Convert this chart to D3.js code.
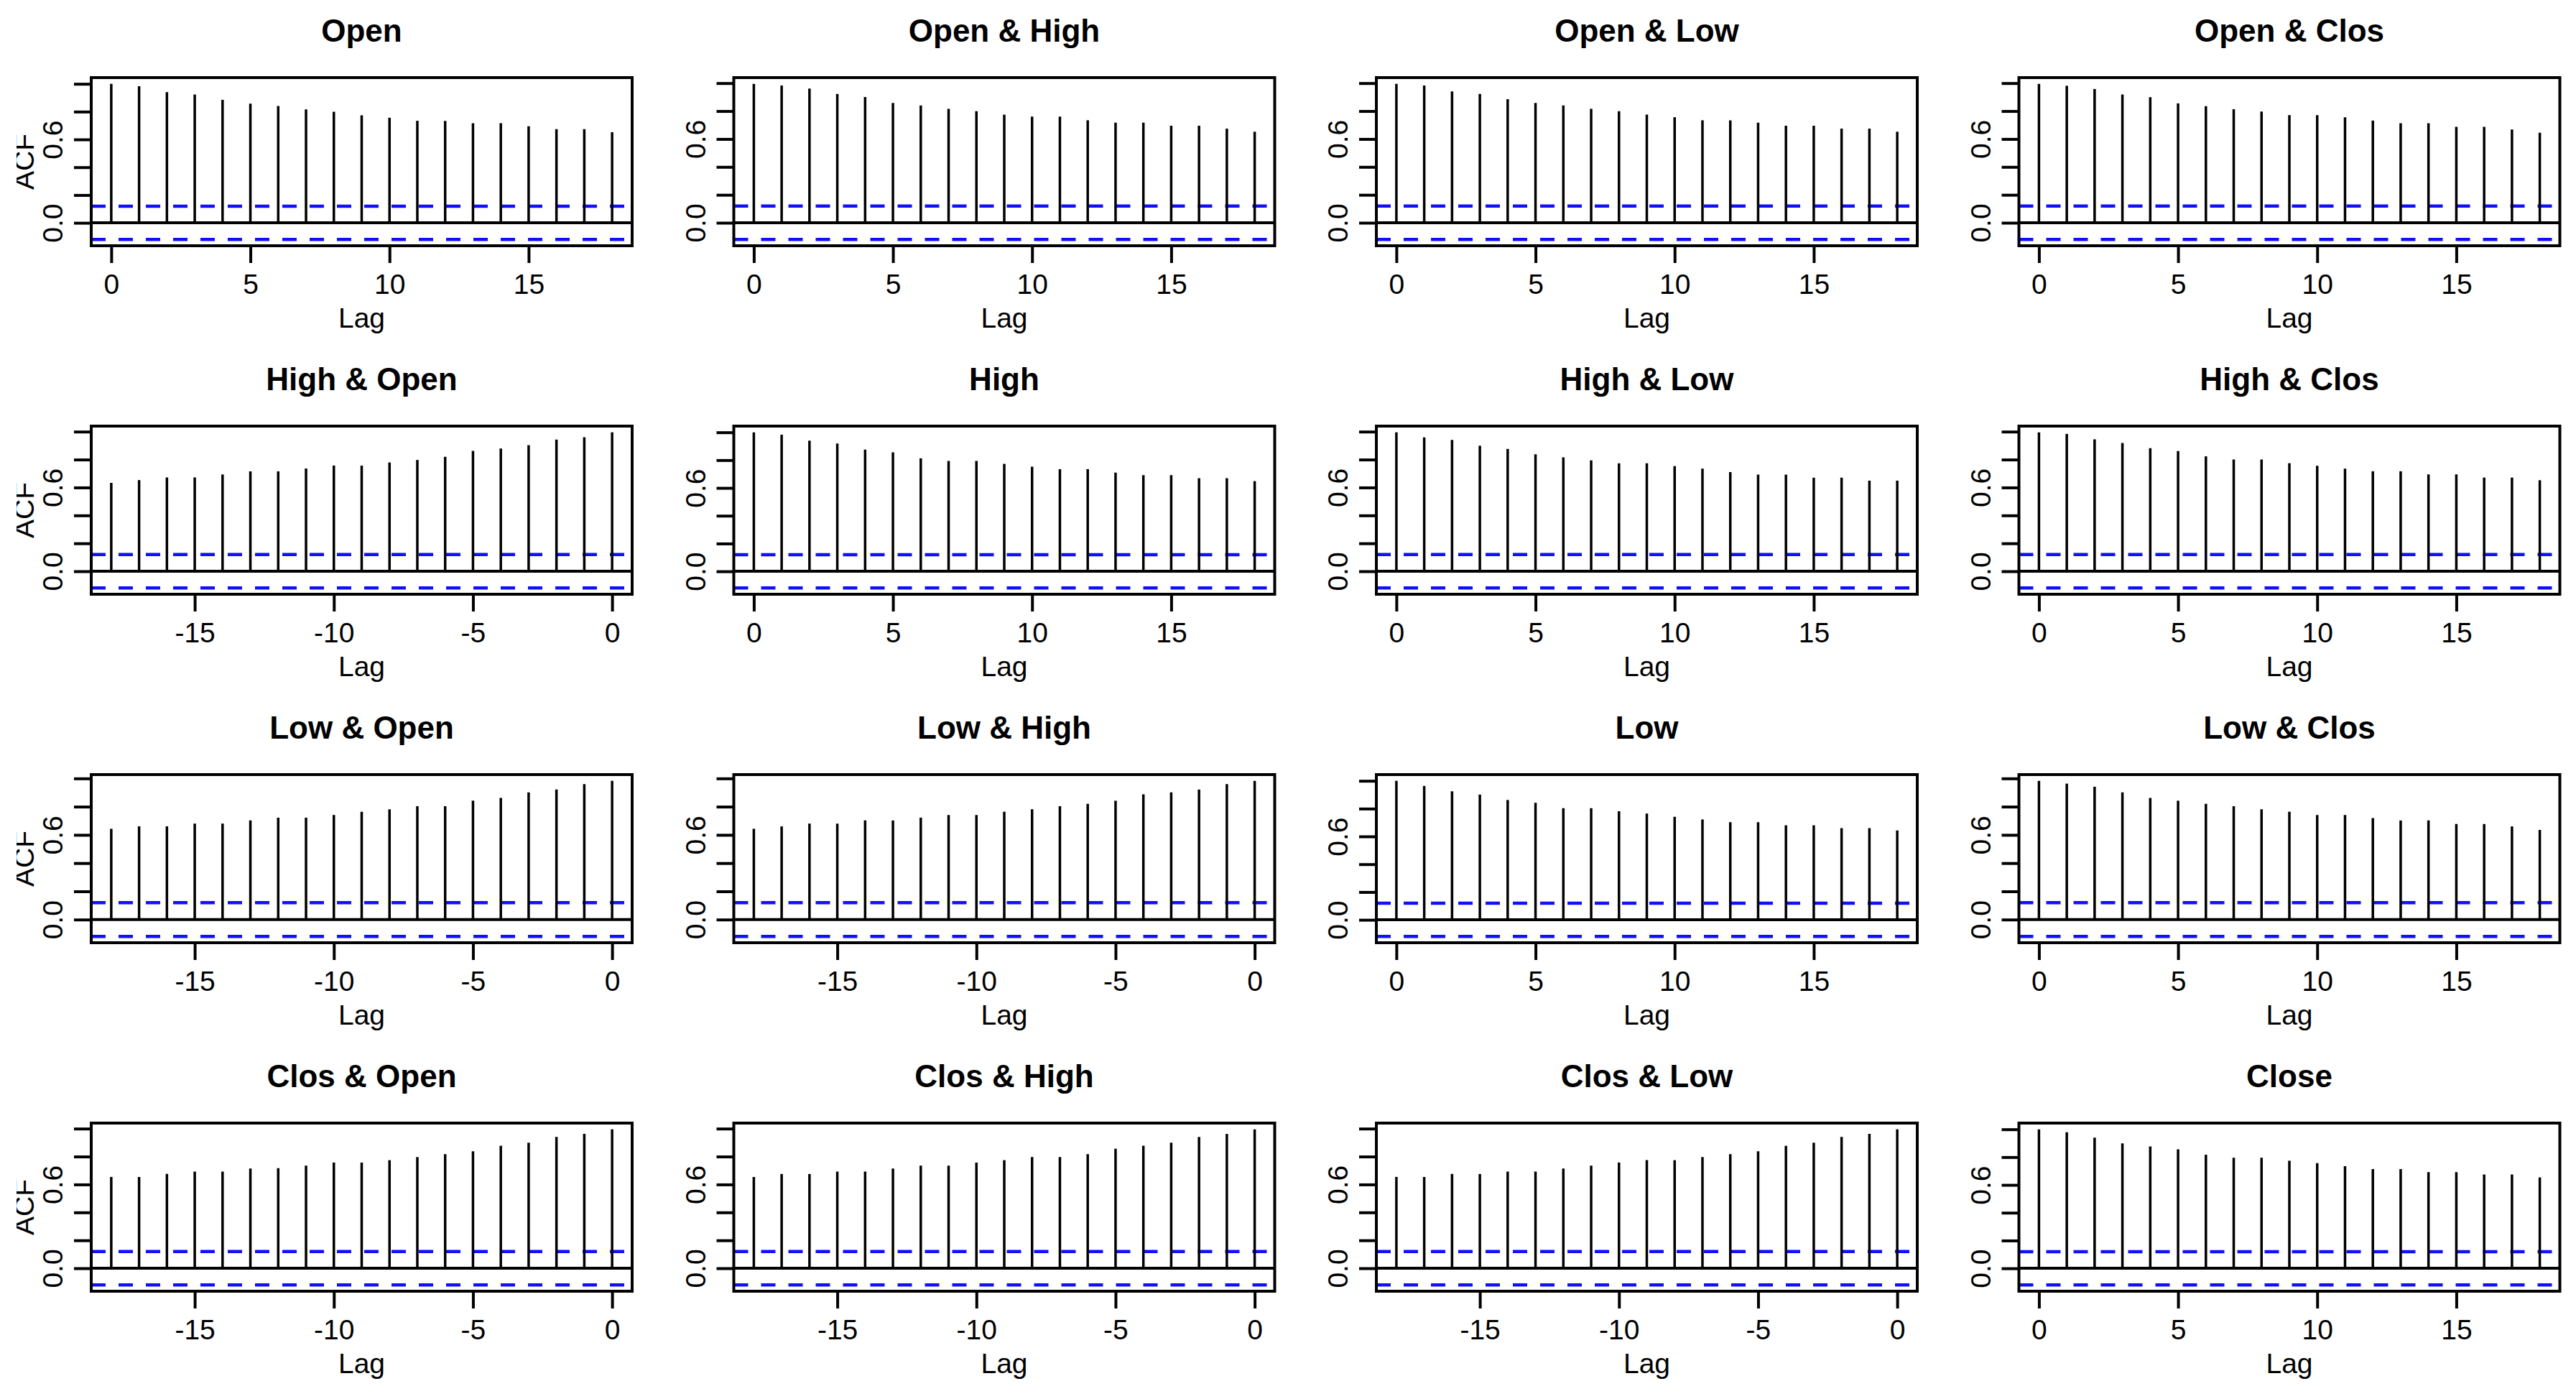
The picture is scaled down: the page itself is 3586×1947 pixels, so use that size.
<!DOCTYPE html>
<html>
<head>
<meta charset="utf-8">
<script src="https://cdn.jsdelivr.net/npm/d3@7"></script>
<style>
  body { margin: 0; background: #fff; }
</style>
</head>
<body>
<div id="chart"></div>
<script>
// lags shown on the x axis
const lagsPos = [0, 1, 2, 3, 4, 5, 6, 7, 8, 9, 10, 11, 12, 13, 14, 15, 16, 17, 18]
const lagsNeg = [-18, -17, -16, -15, -14, -13, -12, -11, -10, -9, -8, -7, -6, -5, -4, -3, -2, -1, 0]

// row 1
const acfOpen     = [1.000, 0.983, 0.940, 0.923, 0.885, 0.858, 0.840, 0.816, 0.799, 0.774, 0.756, 0.734, 0.734, 0.717, 0.717, 0.695, 0.674, 0.674, 0.652]
const ccfOpenHigh = [0.995, 0.983, 0.961, 0.923, 0.901, 0.858, 0.840, 0.816, 0.799, 0.774, 0.760, 0.760, 0.734, 0.717, 0.717, 0.695, 0.695, 0.674, 0.652]
const ccfOpenLow  = [0.995, 0.983, 0.940, 0.923, 0.885, 0.858, 0.840, 0.816, 0.799, 0.774, 0.756, 0.734, 0.734, 0.717, 0.695, 0.695, 0.674, 0.674, 0.652]
const ccfOpenClos = [0.995, 0.981, 0.958, 0.919, 0.900, 0.855, 0.835, 0.813, 0.797, 0.771, 0.771, 0.755, 0.732, 0.713, 0.713, 0.687, 0.687, 0.668, 0.645]
// row 2
const ccfHighOpen = [0.633, 0.653, 0.672, 0.672, 0.693, 0.716, 0.716, 0.736, 0.757, 0.757, 0.779, 0.797, 0.819, 0.862, 0.879, 0.903, 0.943, 0.960, 0.995]
const acfHigh     = [1.000, 0.983, 0.940, 0.919, 0.876, 0.856, 0.813, 0.794, 0.794, 0.773, 0.753, 0.735, 0.735, 0.710, 0.692, 0.692, 0.670, 0.670, 0.649]
const ccfHighLow  = [0.995, 0.959, 0.940, 0.899, 0.876, 0.837, 0.816, 0.794, 0.773, 0.773, 0.753, 0.735, 0.710, 0.692, 0.692, 0.670, 0.670, 0.649, 0.649]
const ccfHighClos = [0.995, 0.984, 0.945, 0.919, 0.881, 0.861, 0.823, 0.800, 0.800, 0.774, 0.755, 0.735, 0.716, 0.716, 0.694, 0.694, 0.671, 0.671, 0.652]
// row 3
const ccfLowOpen  = [0.643, 0.660, 0.660, 0.680, 0.680, 0.702, 0.722, 0.722, 0.741, 0.764, 0.781, 0.803, 0.803, 0.842, 0.862, 0.901, 0.921, 0.960, 0.983]
const ccfLowHigh  = [0.643, 0.660, 0.680, 0.680, 0.702, 0.702, 0.722, 0.741, 0.741, 0.764, 0.781, 0.803, 0.820, 0.842, 0.887, 0.901, 0.921, 0.960, 0.983]
const acfLow      = [1.000, 0.963, 0.924, 0.901, 0.862, 0.842, 0.803, 0.803, 0.781, 0.764, 0.741, 0.722, 0.702, 0.702, 0.680, 0.680, 0.660, 0.660, 0.643]
const ccfLowClos  = [0.983, 0.963, 0.941, 0.901, 0.862, 0.842, 0.820, 0.803, 0.781, 0.764, 0.741, 0.741, 0.719, 0.702, 0.702, 0.677, 0.677, 0.660, 0.635]
// row 4
const ccfClosOpen = [0.654, 0.654, 0.675, 0.692, 0.692, 0.714, 0.717, 0.735, 0.757, 0.757, 0.774, 0.796, 0.817, 0.837, 0.877, 0.899, 0.940, 0.962, 0.995]
const ccfClosHigh = [0.654, 0.675, 0.675, 0.692, 0.692, 0.714, 0.735, 0.735, 0.757, 0.774, 0.796, 0.796, 0.817, 0.856, 0.877, 0.899, 0.940, 0.962, 0.995]
const ccfClosLow  = [0.654, 0.654, 0.675, 0.675, 0.692, 0.692, 0.714, 0.735, 0.757, 0.774, 0.774, 0.796, 0.817, 0.837, 0.877, 0.899, 0.940, 0.962, 0.995]
const acfClose    = [1.000, 0.979, 0.940, 0.899, 0.877, 0.856, 0.817, 0.796, 0.796, 0.774, 0.757, 0.735, 0.714, 0.714, 0.692, 0.692, 0.675, 0.675, 0.654]

const titles = [
  'Open', 'Open & High', 'Open & Low', 'Open & Clos',
  'High & Open', 'High', 'High & Low', 'High & Clos',
  'Low & Open', 'Low & High', 'Low', 'Low & Clos',
  'Clos & Open', 'Clos & High', 'Clos & Low', 'Close'
]
const seriesList = [
  acfOpen, ccfOpenHigh, ccfOpenLow, ccfOpenClos,
  ccfHighOpen, acfHigh, ccfHighLow, ccfHighClos,
  ccfLowOpen, ccfLowHigh, acfLow, ccfLowClos,
  ccfClosOpen, ccfClosHigh, ccfClosLow, acfClose
]
const lagList = [
  lagsPos, lagsPos, lagsPos, lagsPos,
  lagsNeg, lagsPos, lagsPos, lagsPos,
  lagsNeg, lagsNeg, lagsPos, lagsPos,
  lagsNeg, lagsNeg, lagsNeg, lagsPos
]
// 95% bound drawn as the blue dashed lines
const ciLimit = 0.12

const W = 3586, H = 1947
const colStep = 894.5, rowStep = 485
const boxLeft = 127, boxTop = 108, boxW = 753, boxH = 234
const fontAxis = 39, fontMain = 44
const family = '"Liberation Sans", Arial, Helvetica, sans-serif'

let svg = d3.select('#chart')
  .append('svg')
  .attr('width', W)
  .attr('height', H)
  .style('display', 'block')
  .attr('font-family', family)

svg.append('rect').attr('width', W).attr('height', H).attr('fill', '#fff')

// ylab of the first column sits partly outside the figure region
svg.append('clipPath').attr('id', 'ylabClip')
  .append('rect').attr('x', 23).attr('y', 0).attr('width', 200).attr('height', H)

// drop labels that would overlap the previous one (like R's axis)
function thinLabels(g, vertical) {
  let gap = fontAxis * 0.83
  let last = null
  g.selectAll('.tick').each(function() {
    let t = d3.select(this)
    let txt = t.select('text')
    let len = txt.node().getComputedTextLength()
    let tr = t.attr('transform').match(/translate\(([-\d.]+),([-\d.]+)\)/)
    let pos = vertical ? +tr[2] : +tr[1]
    if (last && Math.abs(pos - last.pos) < last.len / 2 + len / 2 + gap) {
      txt.remove()
    } else {
      last = { pos: pos, len: len }
    }
  })
}

seriesList.forEach(function(vals, i) {
  let r = Math.floor(i / 4), c = i % 4
  let x0 = boxLeft + c * colStep
  let y0 = boxTop + r * rowStep
  let lags = lagList[i]

  let xr = d3.extent(lags)
  let xe = (xr[1] - xr[0]) * 0.04
  let x = d3.scaleLinear().domain([xr[0] - xe, xr[1] + xe]).range([x0, x0 + boxW])

  let lo = Math.min(-ciLimit, d3.min(vals)), hi = Math.max(ciLimit, d3.max(vals))
  let ye = (hi - lo) * 0.04
  let y = d3.scaleLinear().domain([lo - ye, hi + ye]).range([y0 + boxH, y0])

  let panel = svg.append('g').attr('class', 'panel')

  // confidence bounds
  panel.selectAll('line.ci')
    .data([ciLimit, -ciLimit])
    .enter()
    .append('line')
    .attr('class', 'ci')
    .attr('x1', x0).attr('x2', x0 + boxW)
    .attr('y1', d => y(d)).attr('y2', d => y(d))
    .attr('stroke', '#1010ff')
    .attr('stroke-width', 4.5)
    .attr('stroke-dasharray', '20,18')

  // zero line
  panel.append('line')
    .attr('x1', x0).attr('x2', x0 + boxW)
    .attr('y1', y(0)).attr('y2', y(0))
    .attr('stroke', '#000')
    .attr('stroke-width', 4)

  // spikes
  panel.selectAll('line.bar')
    .data(vals)
    .enter()
    .append('line')
    .attr('class', 'bar')
    .attr('x1', (d, k) => x(lags[k])).attr('x2', (d, k) => x(lags[k]))
    .attr('y1', y(0)).attr('y2', d => y(d))
    .attr('stroke', '#000')
    .attr('stroke-width', 3.5)

  // box
  panel.append('rect')
    .attr('x', x0).attr('y', y0)
    .attr('width', boxW).attr('height', boxH)
    .attr('fill', 'none')
    .attr('stroke', '#000')
    .attr('stroke-width', 4)

  // x axis
  let gx = panel.append('g')
    .attr('transform', 'translate(0,' + (y0 + boxH) + ')')
    .call(d3.axisBottom(x).ticks(4).tickSize(24).tickPadding(15).tickFormat(d3.format('d')))
  gx.select('.domain').remove()
  gx.attr('font-size', fontAxis).attr('font-family', family)
  gx.selectAll('line').attr('stroke', '#000').attr('stroke-width', 4)
  gx.selectAll('text').attr('fill', '#000').text(d => String(d).replace('−', '-'))
  thinLabels(gx, false)

  // y axis, labels parallel to the axis
  let gy = panel.append('g')
    .attr('transform', 'translate(' + x0 + ',0)')
    .call(d3.axisLeft(y).ticks(6).tickSize(24).tickFormat(d3.format('.1f')))
  gy.select('.domain').remove()
  gy.attr('font-size', fontAxis).attr('font-family', family)
  gy.selectAll('line').attr('stroke', '#000').attr('stroke-width', 4)
  gy.selectAll('text')
    .attr('x', null).attr('dy', null)
    .attr('text-anchor', 'middle')
    .attr('fill', '#000')
    .attr('transform', 'translate(-40,0) rotate(-90)')
  thinLabels(gy, true)

  // title
  panel.append('text')
    .attr('x', x0 + boxW / 2)
    .attr('y', y0 - 50)
    .attr('text-anchor', 'middle')
    .attr('font-size', fontMain)
    .attr('font-weight', 'bold')
    .text(titles[i])

  // x label
  panel.append('text')
    .attr('x', x0 + boxW / 2)
    .attr('y', y0 + boxH + 114)
    .attr('text-anchor', 'middle')
    .attr('font-size', fontAxis)
    .text('Lag')

  // y label only on the first column
  if (c === 0) {
    panel.append('g')
      .attr('clip-path', 'url(#ylabClip)')
      .append('text')
      .attr('transform', 'translate(47,' + (y0 + boxH / 2) + ') rotate(-90)')
      .attr('text-anchor', 'middle')
      .attr('font-size', fontAxis)
      .text('ACF')
  }
})
</script>
</body>
</html>
